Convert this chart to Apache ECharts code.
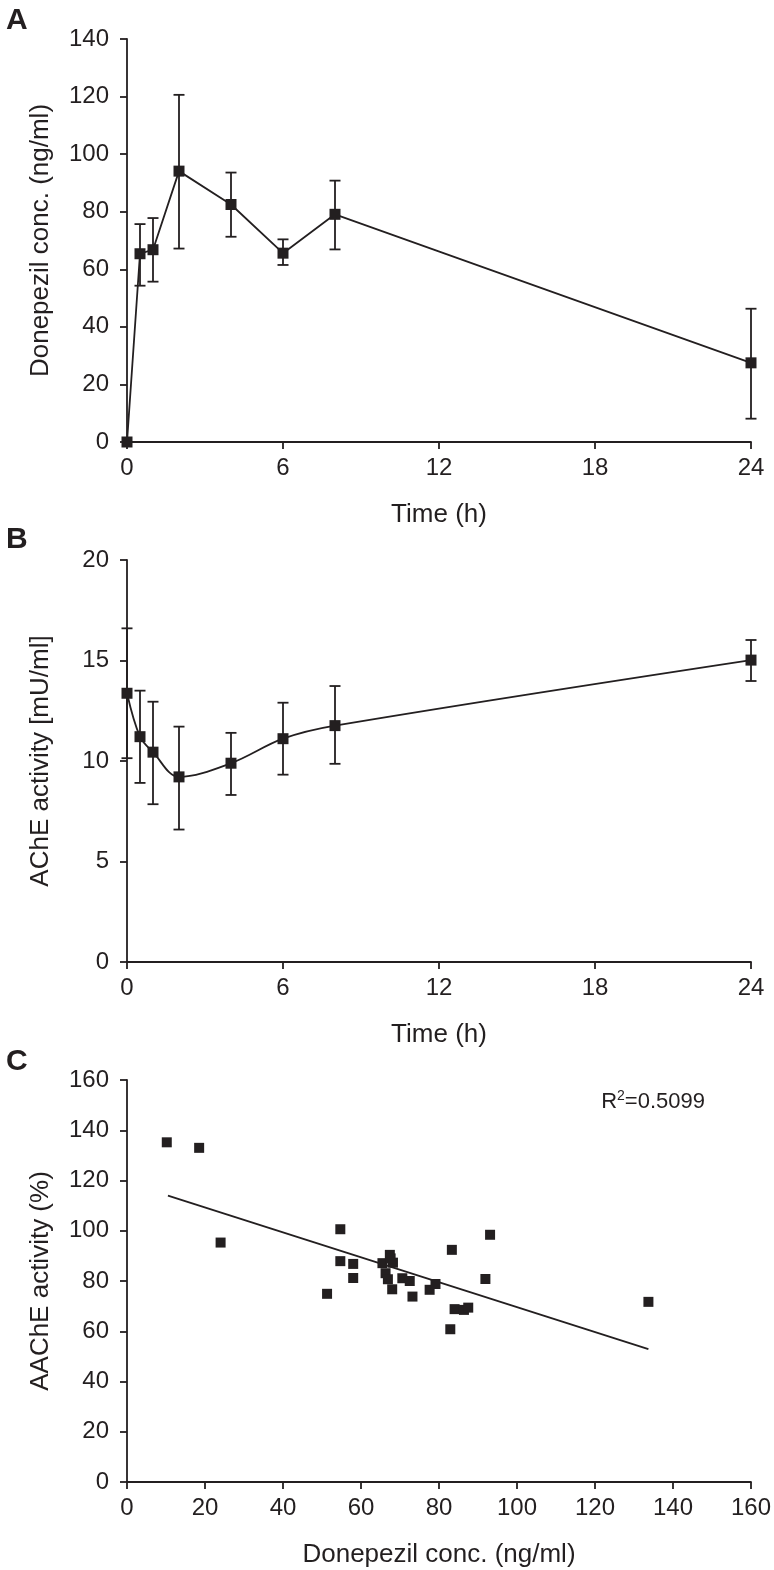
<!DOCTYPE html>
<html>
<head>
<meta charset="utf-8">
<script src="https://cdn.jsdelivr.net/npm/echarts@6/dist/echarts.min.js"></script>
<style>
  html, body { margin: 0; padding: 0; background: #fff; }
  #chart { width: 774px; height: 1570px; }
</style>
</head>
<body>
<div id="chart"></div>
<script>
// panel A: donepezil plasma concentration over time
const timeHours = [0, 0.5, 1, 2, 4, 6, 8, 24]
const concMean = [0, 65.4, 66.8, 94.1, 82.5, 65.6, 79.1, 27.5]
const concLow = [0, 54.3, 55.7, 67.2, 71.3, 61.5, 66.9, 8.1]
const concHigh = [0, 75.7, 77.8, 120.6, 93.6, 70.4, 90.8, 46.3]

// panel B: AChE activity over time
const acheMean = [13.37, 11.21, 10.44, 9.21, 9.89, 11.11, 11.76, 15.02]
const acheLow = [10.14, 8.91, 7.85, 6.59, 8.31, 9.32, 9.86, 13.98]
const acheHigh = [16.6, 13.5, 12.95, 11.71, 11.40, 12.90, 13.73, 16.02]

// panel C: donepezil conc. vs AAChE activity
const scatterConc = [10.2, 18.5, 24.0, 54.7, 54.7, 58.0, 58.0, 51.3, 65.5, 67.4, 68.2, 66.3,
  66.9, 68.0, 70.6, 72.5, 73.2, 77.6, 79.1, 83.3, 82.9, 84.0, 86.4, 87.5, 91.9, 93.1, 133.7, 67.6]
const scatterAche = [135.2, 133.0, 95.3, 100.6, 87.9, 86.8, 81.2, 74.9, 87.1, 90.4, 87.3, 83.1,
  80.7, 76.7, 81.1, 80.0, 73.8, 76.5, 78.8, 92.4, 60.8, 68.8, 68.5, 69.4, 80.8, 98.4, 71.7, 89.0]
const fitX = [10.5, 133.7]
const fitY = [114.0, 52.9]

const ink = '#231f20'
const font = '"Liberation Sans", Arial, sans-serif'
const tickSize = 24
const nameSize = 26

const chart = echarts.init(document.getElementById('chart'))

function xAxis(gridIndex, max, interval, name) {
  return {
    type: 'value', gridIndex, min: 0, max, interval,
    name, nameLocation: 'middle', nameGap: 60,
    nameTextStyle: { fontSize: nameSize, color: ink, fontFamily: font },
    axisLine: { show: true, onZero: false, lineStyle: { color: ink, width: 1.8 } },
    axisTick: { show: true, length: 7, lineStyle: { color: ink, width: 1.8 } },
    axisLabel: { fontSize: tickSize, color: ink, fontFamily: font, margin: 14 },
    splitLine: { show: false }
  }
}

function yAxis(gridIndex, max, interval, name) {
  return {
    type: 'value', gridIndex, min: 0, max, interval,
    name, nameLocation: 'middle', nameGap: 73,
    nameTextStyle: { fontSize: nameSize, color: ink, fontFamily: font },
    axisLine: { show: true, onZero: false, lineStyle: { color: ink, width: 1.8 } },
    axisTick: { show: true, length: 7, lineStyle: { color: ink, width: 1.8 } },
    axisLabel: { fontSize: tickSize, color: ink, fontFamily: font, margin: 18 },
    splitLine: { show: false }
  }
}

// 误差线：竖线 + 上下两个短横
function errorBars(xIdx, yIdx, lows, highs) {
  return {
    type: 'custom', xAxisIndex: xIdx, yAxisIndex: yIdx, z: 1,
    clip: false,
    data: timeHours.map((t, i) => [t, lows[i], highs[i]]),
    renderItem: (params, api) => {
      if (api.value(1) === api.value(2)) return null
      const lo = api.coord([api.value(0), api.value(1)])
      const hi = api.coord([api.value(0), api.value(2)])
      const w = 5.5
      const style = { stroke: ink, lineWidth: 1.8 }
      return {
        type: 'group',
        children: [
          { type: 'line', shape: { x1: hi[0], y1: hi[1], x2: lo[0], y2: lo[1] }, style },
          { type: 'line', shape: { x1: hi[0] - w, y1: hi[1], x2: hi[0] + w, y2: hi[1] }, style },
          { type: 'line', shape: { x1: lo[0] - w, y1: lo[1], x2: lo[0] + w, y2: lo[1] }, style }
        ]
      }
    }
  }
}

const panelLetter = { fontSize: 30, fontWeight: 'bold', color: ink, fontFamily: font }

const option = {
  animation: false,
  backgroundColor: '#fff',
  textStyle: { fontFamily: font },
  title: [
    { text: 'A', left: 1, top: 1, textStyle: panelLetter },
    { text: 'B', left: 1, top: 520, textStyle: panelLetter },
    { text: 'C', left: 1, top: 1042, textStyle: panelLetter },
    {
      text: 'R{sup|2}=0.5099', right: 64, top: 1084,
      textStyle: {
        fontSize: 22, fontWeight: 'normal', color: ink, fontFamily: font,
        rich: { sup: { fontSize: 14, color: ink, fontFamily: font, verticalAlign: 'top', padding: [0, 0, 12, 0] } }
      }
    }
  ],
  grid: [
    { left: 127, width: 624, top: 39, height: 403 },
    { left: 127, width: 624, top: 560, height: 402 },
    { left: 127, width: 624, top: 1080, height: 402 }
  ],
  xAxis: [
    xAxis(0, 24, 6, 'Time (h)'),
    xAxis(1, 24, 6, 'Time (h)'),
    xAxis(2, 160, 20, 'Donepezil conc. (ng/ml)')
  ],
  yAxis: [
    yAxis(0, 140, 20, 'Donepezil conc. (ng/ml)'),
    yAxis(1, 20, 5, 'AChE activity [mU/ml]'),
    yAxis(2, 160, 20, 'AAChE activity (%)')
  ],
  series: [
    errorBars(0, 0, concLow, concHigh),
    {
      type: 'line', xAxisIndex: 0, yAxisIndex: 0, z: 3, clip: false,
      data: timeHours.map((t, i) => [t, concMean[i]]),
      symbol: 'rect', symbolSize: 11,
      itemStyle: { color: ink, opacity: 1 },
      lineStyle: { color: ink, width: 1.8 }
    },
    errorBars(1, 1, acheLow, acheHigh),
    {
      type: 'line', xAxisIndex: 1, yAxisIndex: 1, z: 3, clip: false,
      data: timeHours.map((t, i) => [t, acheMean[i]]),
      smooth: 0.35,
      symbol: 'rect', symbolSize: 11,
      itemStyle: { color: ink, opacity: 1 },
      lineStyle: { color: ink, width: 1.8 }
    },
    {
      type: 'line', xAxisIndex: 2, yAxisIndex: 2, z: 2,
      data: fitX.map((x, i) => [x, fitY[i]]),
      symbol: 'none',
      lineStyle: { color: ink, width: 1.8 }
    },
    {
      type: 'scatter', xAxisIndex: 2, yAxisIndex: 2, z: 3,
      data: scatterConc.map((x, i) => [x, scatterAche[i]]),
      symbol: 'rect', symbolSize: 10,
      itemStyle: { color: ink, opacity: 1 }
    }
  ]
}

option && chart.setOption(option)
</script>
</body>
</html>
